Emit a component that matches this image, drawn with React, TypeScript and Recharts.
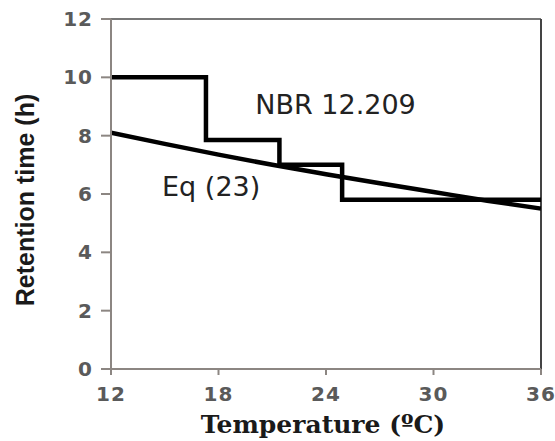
import { LineChart, Line, XAxis, YAxis, ReferenceLine, ReferenceDot } from "recharts";

// NBR 12.209 step limits
const nbrTemps = [12, 17.3, 21.4, 24.9, 36];
const nbrHours = [10, 7.85, 7.0, 5.8, 5.8];

// Eq (23) curve
const eqTemps = [12, 15, 18, 21, 24, 27, 30, 33, 36];
const eqHours = [8.1, 7.72, 7.35, 7.0, 6.68, 6.37, 6.07, 5.77, 5.5];

const xTicks = [12, 18, 24, 30, 36];
const yTicks = [0, 2, 4, 6, 8, 10, 12];

const nbrData = nbrTemps.map((t, i) => ({ t, h: nbrHours[i] }));
const eqData = eqTemps.map((t, i) => ({ t, h: eqHours[i] }));

const axisColor = "#8c8682";
const tickFont = {
  fontSize: 20,
  fontWeight: "bold",
  fill: "#5a5a5a",
  fontFamily: "DejaVu Sans",
  letterSpacing: 1,
} as const;
const noteStyle = { fontSize: 27, fill: "#222", fontFamily: "DejaVu Sans" };

const XTick = (props: any) => (
  <text x={props.x} y={props.y + 16} textAnchor="middle" style={tickFont}>
    {props.payload.value}
  </text>
);

const YTick = (props: any) => (
  <text x={props.x} y={props.y + 7} textAnchor="end" style={tickFont}>
    {props.payload.value}
  </text>
);

const note = (text: string) => (props: any) => {
  const vb = props.viewBox || {};
  return (
    <text x={vb.x} y={vb.y} style={noteStyle}>
      {text}
    </text>
  );
};

export default function App() {
  return (
    <div style={{ position: "absolute", left: 0, top: 0, background: "#fff" }}>
      <LineChart width={555} height={441} margin={{ top: 19, right: 14, bottom: 0, left: 0 }}>
        <XAxis
          dataKey="t"
          type="number"
          domain={[12, 36]}
          ticks={xTicks}
          allowDataOverflow
          stroke={axisColor}
          strokeWidth={2}
          tickSize={6}
          tickMargin={10}
          tick={XTick}
          height={72}
          label={() => (
            <text
              x={323}
              y={433}
              textAnchor="middle"
              style={{ fontSize: 25, fontWeight: "bold", fill: "#1a1a1a", fontFamily: "DejaVu Serif" }}
            >
              Temperature (ºC)
            </text>
          )}
        />
        <YAxis
          type="number"
          domain={[0, 12]}
          ticks={yTicks}
          stroke={axisColor}
          strokeWidth={2}
          tickSize={10}
          tickMargin={8}
          tick={YTick}
          width={111}
          label={() => (
            <text
              x={34}
              y={200}
              textAnchor="middle"
              transform="rotate(-90 34 200)"
              style={{ fontSize: 25, fontWeight: "bold", fill: "#1a1a1a", fontFamily: "Liberation Sans" }}
            >
              Retention time (h)
            </text>
          )}
        />
        <ReferenceLine y={12} stroke="#777" strokeWidth={2} />
        <ReferenceLine x={36} stroke="#444" strokeWidth={2} />
        <Line
          data={nbrData}
          dataKey="h"
          type="stepAfter"
          stroke="#000"
          strokeWidth={4.5}
          dot={false}
          isAnimationActive={false}
        />
        <Line
          data={eqData}
          dataKey="h"
          type="monotone"
          stroke="#000"
          strokeWidth={4.5}
          dot={false}
          isAnimationActive={false}
        />
        <ReferenceDot x={20.05} y={8.74} r={0} stroke="none" fill="none" label={note("NBR 12.209")} />
        <ReferenceDot x={14.85} y={5.93} r={0} stroke="none" fill="none" label={note("Eq (23)")} />
      </LineChart>
    </div>
  );
}
